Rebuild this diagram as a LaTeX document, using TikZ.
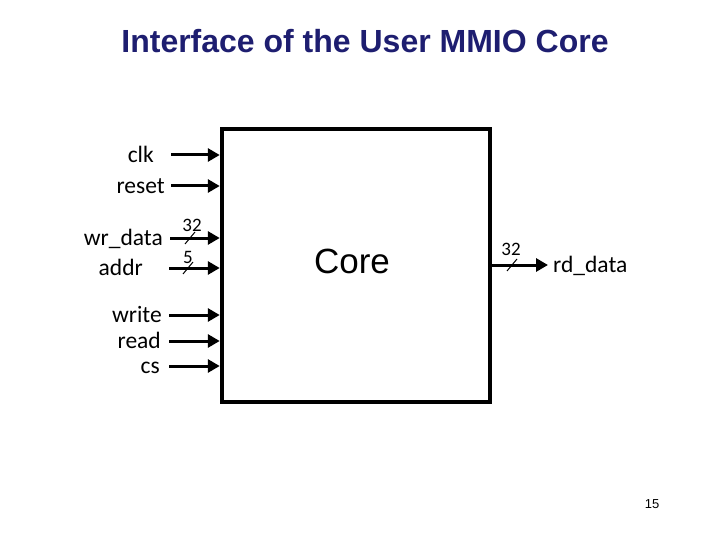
\documentclass[tikz,border=0pt]{standalone}
\usepackage{fontspec}
\setmainfont{Carlito}
\newfontfamily\arialfont{Liberation Sans}
\usetikzlibrary{arrows.meta}
\definecolor{titleblue}{RGB}{30,30,112}

\begin{document}
\begin{tikzpicture}[x=1pt,y=-1pt,
    sig/.style={line width=3pt,-{Triangle[length=12pt,width=13pt]}},
    slash/.style={line width=1pt},
    inlbl/.style={anchor=base east,inner sep=0pt,font=\fontsize{23.5}{26}\selectfont},
    outlbl/.style={anchor=base west,inner sep=0pt,font=\fontsize{23.5}{26}\selectfont},
    buswd/.style={inner sep=0pt,font=\fontsize{19}{21}\selectfont}]
  \useasboundingbox (0,0) rectangle (720,540);
  \node[text=titleblue,font=\arialfont\bfseries\fontsize{32}{36}\selectfont] (title) at (365,41) {Interface of the User MMIO Core};
  % the core block
  \node[draw,line width=4.5pt,minimum width=268pt,minimum height=273pt,inner sep=0pt] (core) at (356,265.5) {};
  \node[font=\arialfont\fontsize{35}{40}\selectfont] (corename) at (352,261) {Core};
  % inputs (text sits on a baseline 7.5 below its arrow)
  \coordinate (clkpin) at (171,155);
  \coordinate (resetpin) at (171,186);
  \coordinate (wrdatapin) at (170,238);
  \coordinate (addrpin) at (169,268);
  \coordinate (writepin) at (169,315);
  \coordinate (readpin) at (169,341);
  \coordinate (cspin) at (169,366);
  \node[inlbl] (clk) at (154,162.5) {clk};
  \node[inlbl] (reset) at (165,193.5) {reset};
  \node[inlbl] (wrdata) at (163,245.5) {wr\_data};
  \node[inlbl] (addr) at (143,275.5) {addr};
  \node[inlbl] (write) at (162,322.5) {write};
  \node[inlbl] (read) at (161,348.5) {read};
  \node[inlbl] (cs) at (160,373.5) {cs};
  \foreach \s in {clk,reset,wrdata,addr,write,read,cs}
    \draw[sig] (\s pin) -- (\s pin -| core.west);
  \draw[slash] (190,0 |- wrdatapin) ++(-5,6) -- ++(10,-12);
  \draw[slash] (188,0 |- addrpin) ++(-5,6) -- ++(10,-12);
  \node[buswd] (wrw) at (192,225) {32};
  \node[buswd] (addrw) at (188,257) {5};
  % output
  \coordinate (rdpin) at (548,265);
  \node[outlbl] (rddata) at (553,272.5) {rd\_data};
  \draw[sig] (rdpin -| core.east) -- (rdpin);
  \draw[slash] (512,0 |- rdpin) ++(-5,6) -- ++(10,-12);
  \node[buswd] (rdw) at (511,249) {32};
  \node[font=\arialfont\fontsize{13}{15}\selectfont] (pagenum) at (652,504) {15};
\end{tikzpicture}
\end{document}
